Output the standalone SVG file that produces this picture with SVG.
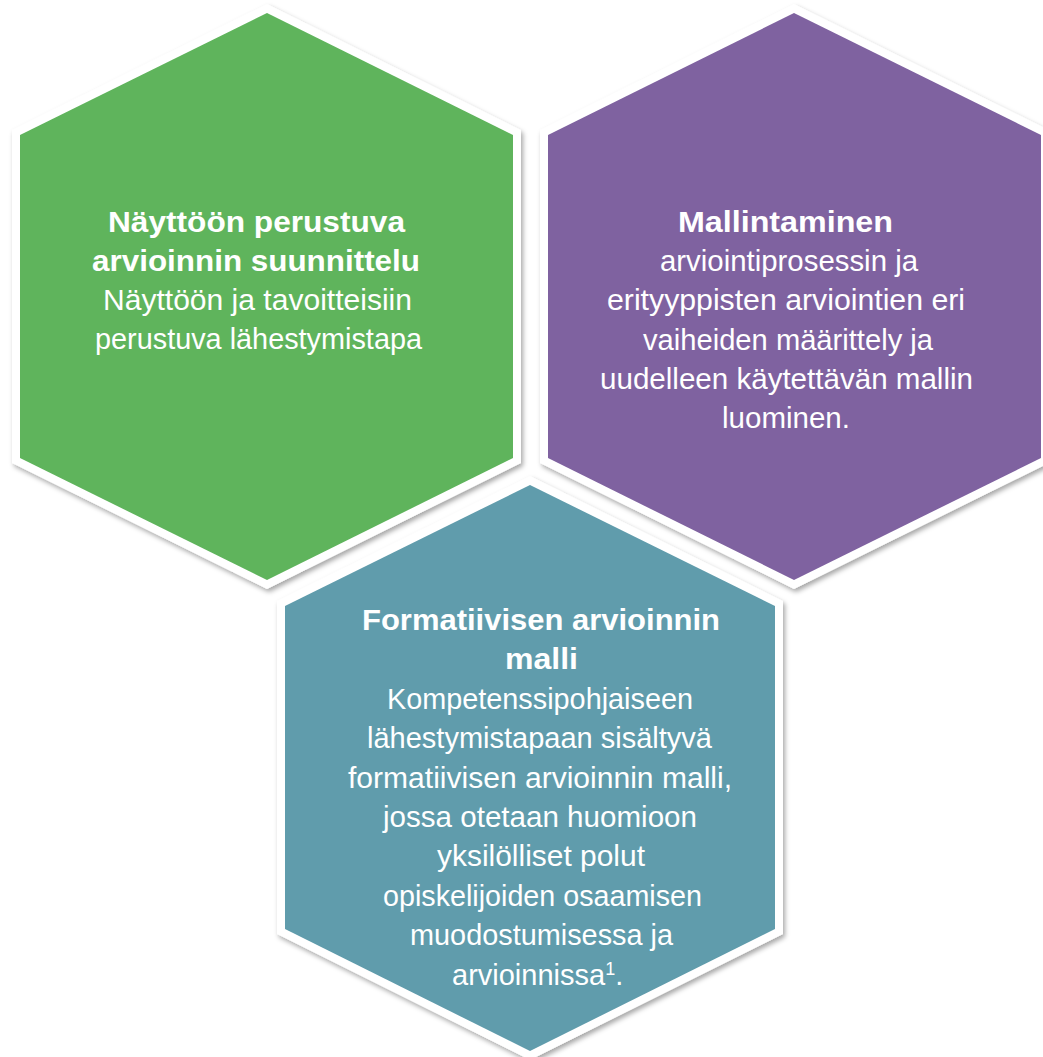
<svg xmlns="http://www.w3.org/2000/svg" width="1043" height="1057" viewBox="0 0 1043 1057">
<style>
.hex{stroke:#ffffff;stroke-width:16;stroke-linejoin:miter;paint-order:stroke;}
.t{font-family:"Liberation Sans",Arial,sans-serif;font-size:29px;fill:#ffffff;}
.b{font-weight:bold;}
</style>
<defs>
<filter id="sh" x="-10%" y="-10%" width="120%" height="120%">
<feDropShadow dx="2" dy="3" stdDeviation="2.5" flood-color="#000000" flood-opacity="0.35"/>
</filter>
</defs>
<rect width="1043" height="1057" fill="#ffffff"/>
<g id="connectors"/>
<g id="node-green">
<polygon class="hex" filter="url(#sh)" fill="#5FB45C" points="267,13 513,135 513,458 267,580 20,458 20,135"/>
<text class="t b" x="108" y="232" textLength="297" lengthAdjust="spacingAndGlyphs">Näyttöön perustuva</text>
<text class="t b" x="92" y="271" textLength="328" lengthAdjust="spacingAndGlyphs">arvioinnin suunnittelu</text>
<text class="t" x="103" y="310" textLength="309" lengthAdjust="spacingAndGlyphs">Näyttöön ja tavoitteisiin</text>
<text class="t" x="95" y="349" textLength="327" lengthAdjust="spacingAndGlyphs">perustuva lähestymistapa</text>
</g>
<g id="node-purple">
<polygon class="hex" filter="url(#sh)" fill="#7F62A0" points="794,13 1041,135 1041,458 794,580 548,458 548,135"/>
<text class="t b" x="678" y="232" textLength="215" lengthAdjust="spacingAndGlyphs">Mallintaminen</text>
<text class="t" x="660" y="271" textLength="258" lengthAdjust="spacingAndGlyphs">arviointiprosessin ja</text>
<text class="t" x="607" y="310" textLength="358" lengthAdjust="spacingAndGlyphs">erityyppisten arviointien eri</text>
<text class="t" x="643" y="350" textLength="290" lengthAdjust="spacingAndGlyphs">vaiheiden määrittely ja</text>
<text class="t" x="600" y="389" textLength="373" lengthAdjust="spacingAndGlyphs">uudelleen käytettävän mallin</text>
<text class="t" x="722" y="428" textLength="128" lengthAdjust="spacingAndGlyphs">luominen.</text>
</g>
<g id="node-teal">
<polygon class="hex" filter="url(#sh)" fill="#609CAC" points="530,485 775,606 775,929 530,1051 285,929 285,606"/>
<text class="t b" x="362" y="630" textLength="358" lengthAdjust="spacingAndGlyphs">Formatiivisen arvioinnin</text>
<text class="t b" x="505" y="669" textLength="73" lengthAdjust="spacingAndGlyphs">malli</text>
<text class="t" x="387" y="709" textLength="306" lengthAdjust="spacingAndGlyphs">Kompetenssipohjaiseen</text>
<text class="t" x="367" y="748" textLength="345" lengthAdjust="spacingAndGlyphs">lähestymistapaan sisältyvä</text>
<text class="t" x="348" y="788" textLength="384" lengthAdjust="spacingAndGlyphs">formatiivisen arvioinnin malli,</text>
<text class="t" x="383" y="827" textLength="314" lengthAdjust="spacingAndGlyphs">jossa otetaan huomioon</text>
<text class="t" x="437" y="866" textLength="208" lengthAdjust="spacingAndGlyphs">yksilölliset polut</text>
<text class="t" x="383" y="906" textLength="319" lengthAdjust="spacingAndGlyphs">opiskelijoiden osaamisen</text>
<text class="t" x="410" y="945" textLength="263" lengthAdjust="spacingAndGlyphs">muodostumisessa ja</text>
<text class="t" x="452" y="985">arvioinnissa<tspan font-size="18" dy="-10">1</tspan><tspan dy="10">.</tspan></text>
</g>
</svg>
